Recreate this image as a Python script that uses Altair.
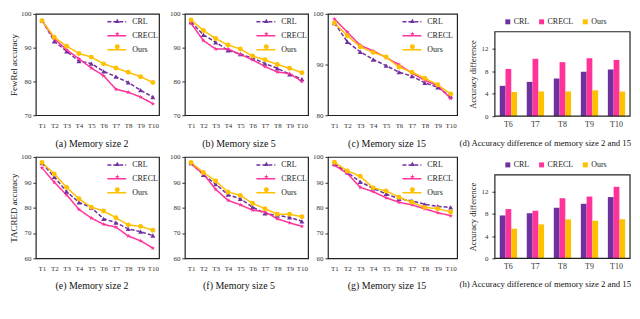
import altair as alt
import pandas as pd

tasks = ["T1", "T2", "T3", "T4", "T5", "T6", "T7", "T8", "T9", "T10"]
diff_tasks = ["T6", "T7", "T8", "T9", "T10"]
series = ["CRL", "CRECL", "Ours"]
colors = ["#7030A0", "#FF3399", "#FFC000"]
star = "M0,-1L0.2245,-0.309L0.951,-0.309L0.363,0.118L0.588,0.809L0,0.382L-0.588,0.809L-0.363,0.118L-0.951,-0.309L-0.2245,-0.309Z"
shapes = ["triangle-up", star, "circle"]

# FewRel
fewrel_m2_crl = [98.1, 91.9, 88.9, 86.0, 85.3, 83.0, 81.4, 79.7, 77.4, 75.4]
fewrel_m2_crecl = [98.0, 92.6, 89.4, 86.7, 84.0, 81.7, 77.7, 76.8, 75.4, 73.4]
fewrel_m2_ours = [98.0, 93.1, 90.4, 88.3, 87.2, 85.2, 84.0, 82.7, 81.4, 79.7]
fewrel_m5_crl = [97.6, 93.8, 91.6, 89.2, 88.1, 86.9, 85.3, 83.9, 82.1, 80.7]
fewrel_m5_crecl = [97.2, 92.1, 89.6, 89.6, 88.0, 86.4, 84.4, 82.8, 82.3, 80.0]
fewrel_m5_ours = [98.2, 95.1, 92.7, 90.8, 89.6, 87.5, 86.4, 85.0, 83.9, 82.6]
fewrel_m15_crl = [98.2, 94.5, 92.5, 91.0, 89.8, 88.5, 87.7, 86.4, 85.5, 83.7]
fewrel_m15_crecl = [99.0, 96.4, 93.8, 92.7, 91.4, 90.0, 88.3, 86.9, 85.8, 83.3]
fewrel_m15_ours = [98.2, 95.7, 93.5, 92.4, 91.5, 89.5, 88.5, 87.3, 86.0, 84.2]
fewrel_diff_crl = [5.4, 6.1, 6.7, 7.9, 8.3]
fewrel_diff_crecl = [8.4, 10.2, 9.6, 10.3, 10.0]
fewrel_diff_ours = [4.3, 4.4, 4.4, 4.6, 4.4]

# TACRED
tacred_m2_crl = [97.6, 92.1, 86.3, 82.1, 80.0, 75.6, 74.1, 71.6, 70.5, 69.0]
tacred_m2_crecl = [95.7, 90.0, 85.0, 79.3, 75.9, 73.4, 72.3, 68.8, 66.9, 64.0]
tacred_m2_ours = [97.8, 93.3, 88.0, 83.5, 80.2, 78.7, 76.0, 73.2, 72.6, 71.1]
tacred_m5_crl = [97.6, 92.9, 89.3, 85.1, 83.5, 80.2, 77.7, 76.9, 76.2, 74.6]
tacred_m5_crecl = [97.3, 93.3, 87.2, 82.9, 81.1, 79.0, 78.3, 75.6, 74.0, 72.6]
tacred_m5_ours = [97.8, 93.9, 90.5, 86.2, 84.8, 81.7, 79.6, 77.4, 77.4, 76.4]
tacred_m15_crl = [97.3, 93.9, 90.2, 87.6, 85.4, 83.5, 82.7, 81.3, 80.5, 80.1]
tacred_m15_crecl = [96.7, 93.5, 88.0, 86.3, 83.9, 82.1, 81.1, 79.5, 78.0, 76.8]
tacred_m15_ours = [97.9, 94.5, 92.4, 87.8, 86.6, 84.1, 82.1, 80.1, 79.6, 78.3]
tacred_diff_crl = [7.7, 8.1, 9.1, 9.8, 11.0]
tacred_diff_crecl = [8.85, 8.55, 10.8, 11.1, 12.85]
tacred_diff_ours = [5.3, 6.1, 7.0, 6.75, 7.0]

diff_max = 15
LBL = "#333333"
FRAME = "#222222"
IND = dict(color="independent", shape="independent", strokeDash="independent")


def frame(cats, arrays):
    rows = []
    for s, arr in zip(series, arrays):
        for t, v in zip(cats, arr):
            rows.append({"task": t, "series": s, "value": v})
    return pd.DataFrame(rows)


def line_panel(arrays, width, height, domain, ticks, ytitle, caption, yext,
               cap_x, cap_pad, legend_x):
    df = frame(tasks, arrays)
    x = alt.X("task:N", sort=tasks, scale=alt.Scale(type="point", padding=0.5),
              axis=alt.Axis(title=caption, labelAngle=0, ticks=False, tickSize=0,
                            domain=False, grid=False, labelPadding=6, labelFontSize=7,
                            labelColor=LBL, titleFontSize=10, titleFontWeight="normal",
                            titleColor="#111", titlePadding=cap_pad, titleX=cap_x))
    yaxis = dict(values=ticks, grid=False, domain=False, tickSize=3, tickColor="#333",
                 labelPadding=2, labelFontSize=7, labelColor=LBL, minExtent=yext,
                 maxExtent=yext, labelFlush=False)
    if ytitle:
        yaxis.update(title=ytitle, titleFontSize=9, titleFontWeight="normal",
                     titleColor="#111", titlePadding=2)
    else:
        yaxis.update(title=None)
    y = alt.Y("value:Q", scale=alt.Scale(domain=domain, nice=False, zero=False),
              axis=alt.Axis(**yaxis))
    leg1 = alt.Legend(title=None, orient="none", legendX=legend_x, legendY=3,
                      symbolType="M-3.75,0H1", symbolSize=64, symbolStrokeWidth=1.5,
                      labelFontSize=8, labelColor="#222", labelOffset=5, rowPadding=5,
                      padding=0)
    leg2 = alt.Legend(title=None, orient="none", legendX=legend_x - 4, legendY=3,
                      symbolSize=25, symbolStrokeWidth=0, labelFontSize=8,
                      labelOffset=5, rowPadding=5, padding=0, labelExpr="' '")
    base = alt.Chart(df)
    lines = base.mark_line(strokeWidth=1.5).encode(
        x=x, y=y,
        color=alt.Color("series:N", scale=alt.Scale(domain=series, range=colors), legend=leg1),
        strokeDash=alt.StrokeDash("series:N", scale=alt.Scale(domain=series, range=[[4, 2], [1, 0], [1, 0]]), legend=leg1),
    )
    pts = base.mark_point(filled=True, size=25, opacity=1).encode(
        x=x, y=y,
        color=alt.Color("series:N", scale=alt.Scale(domain=series, range=colors), legend=leg2),
        shape=alt.Shape("series:N", scale=alt.Scale(domain=series, range=shapes), legend=leg2),
    )
    return alt.layer(lines, pts).resolve_scale(**IND).resolve_legend(**IND).properties(
        width=width, height=height)


def bar_panel(arrays, width, height, frame_h, caption, cap_pad):
    df = frame(diff_tasks, arrays)
    top = diff_max * height / frame_h
    yscale = alt.Scale(domain=[0, top], nice=False)
    yaxis = alt.Axis(values=[0, 4, 8, 12], title="Accuracy difference", grid=False,
                     domain=False, tickSize=3, tickColor="#333", labelPadding=4,
                     labelFontSize=7, labelColor=LBL, minExtent=14, maxExtent=14,
                     titleFontSize=8.5, titleFontWeight="normal", titleColor="#111",
                     titlePadding=3, titleY=height - frame_h / 2, labelFlush=False)
    bars = alt.Chart(df).mark_bar().encode(
        x=alt.X("task:N", sort=diff_tasks, scale=alt.Scale(paddingInner=0.36, paddingOuter=0.18),
                axis=alt.Axis(title=caption, labelAngle=0, ticks=False, tickSize=0, domain=False,
                              labelPadding=4.7, labelFontSize=8, labelColor=LBL, titleFontSize=8.8,
                              titleFontWeight="normal", titleColor="#111", titlePadding=cap_pad,
                              titleX=50.25)),
        xOffset=alt.XOffset("series:N", sort=series,
                            scale=alt.Scale(domain=series, paddingInner=0, paddingOuter=0)),
        y=alt.Y("value:Q", scale=yscale, axis=yaxis),
        color=alt.Color("series:N", scale=alt.Scale(domain=series, range=colors),
                        legend=alt.Legend(title=None, orient="none", direction="horizontal",
                                          legendX=6.5, legendY=height - frame_h - 16.5,
                                          symbolType="square", symbolSize=25,
                                          symbolStrokeWidth=0, labelFontSize=8,
                                          labelColor="#222", labelOffset=2, columnPadding=8,
                                          padding=2.5)),
    )
    box = alt.Chart(pd.DataFrame({"value": [0], "hi": [diff_max]})).mark_rect(
        fill="transparent", stroke=FRAME, strokeWidth=1.2
    ).encode(y=alt.Y("value:Q", scale=yscale, axis=yaxis), y2=alt.Y2("hi"))
    return alt.layer(bars, box).properties(
        width=width, height=height, view=alt.ViewBackground(stroke="transparent"))


a = line_panel([fewrel_m2_crl, fewrel_m2_crecl, fewrel_m2_ours], 124, 102, [70, 100],
               [70, 80, 90, 100], "FewRel accuracy", "(a) Memory size 2", 15.5, 56, 10, 82)
b = line_panel([fewrel_m5_crl, fewrel_m5_crecl, fewrel_m5_ours], 124, 102, [70, 100],
               [70, 80, 90, 100], None, "(b) Memory size 5", 24, 54, 10, 82)
c = line_panel([fewrel_m15_crl, fewrel_m15_crecl, fewrel_m15_ours], 130, 102, [80, 100],
               [80, 90, 100], None, "(c) Memory size 15", 18, 59, 10, 85)
d = bar_panel([fewrel_diff_crl, fewrel_diff_crecl, fewrel_diff_ours], 136, 103, 85,
              "(d) Accuracy difference of memory size 2 and 15", 10)

e = line_panel([tacred_m2_crl, tacred_m2_crecl, tacred_m2_ours], 124, 102, [60, 100],
               [60, 70, 80, 90, 100], "TACRED accuracy", "(e) Memory size 2", 15.5, 56, 9, 82)
f = line_panel([tacred_m5_crl, tacred_m5_crecl, tacred_m5_ours], 124, 102, [60, 100],
               [60, 70, 80, 90, 100], None, "(f) Memory size 5", 24, 54, 9, 82)
g = line_panel([tacred_m15_crl, tacred_m15_crecl, tacred_m15_ours], 130, 102, [60, 100],
               [60, 70, 80, 90, 100], None, "(g) Memory size 15", 18, 59, 9, 85)
h = bar_panel([tacred_diff_crl, tacred_diff_crecl, tacred_diff_ours], 136, 102, 84,
              "(h) Accuracy difference of memory size 2 and 15", 9)

row1 = alt.hconcat(
    alt.hconcat(a, b, c, spacing=0).resolve_scale(**IND).resolve_legend(**IND),
    d, spacing=0).resolve_scale(**IND).resolve_legend(**IND)
row2 = alt.hconcat(
    alt.hconcat(e, f, g, spacing=0).resolve_scale(**IND).resolve_legend(**IND),
    h, spacing=0).resolve_scale(**IND).resolve_legend(**IND)

chart = alt.vconcat(row1, row2, spacing=3).resolve_scale(**IND).resolve_legend(**IND).properties(
    padding=0
).configure(font="Liberation Serif", padding=0).configure_view(stroke=FRAME, strokeWidth=1.2)

chart.save("out.html", embed_options={"renderer": "svg", "actions": False, "padding": 0})
